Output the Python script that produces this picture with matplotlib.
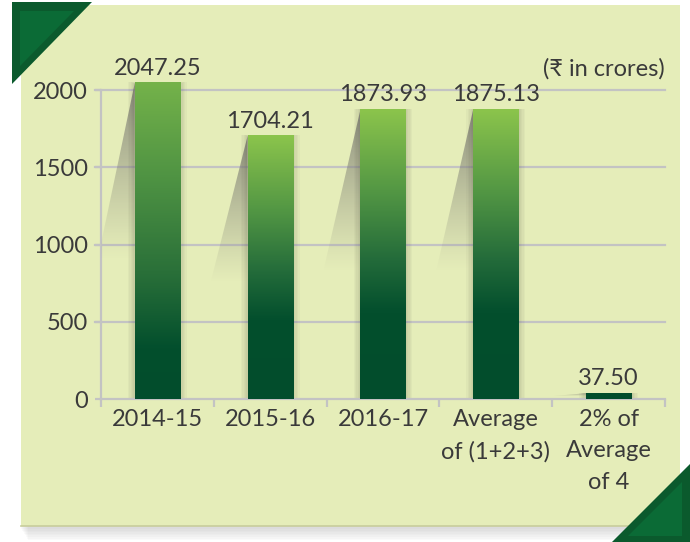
import numpy as np
import matplotlib
matplotlib.use("Agg")
import matplotlib.pyplot as plt
from matplotlib.colors import LinearSegmentedColormap
from matplotlib.patches import Polygon, Rectangle

# dados
categorias = ["2014-15", "2015-16", "2016-17", "Average\nof (1+2+3)", "2% of\nAverage\nof 4"]
valores = [2047.25, 1704.21, 1873.93, 1875.13, 37.50]
rotulos = ["2047.25", "1704.21", "1873.93", "1875.13", "37.50"]
yticks = [0, 500, 1000, 1500, 2000]

plt.rcParams['font.family'] = ['Liberation Sans Narrow', 'Lato', 'DejaVu Sans']
cor_texto = '#3a3a3a'
cor_grade = '#c3c3c3'
fundo = '#e5edb9'

fig = plt.figure(figsize=(6.9, 5.42), dpi=100)
fig.patch.set_facecolor('white')

# fundo do painel e triângulos dos cantos
bg = fig.add_axes([0, 0, 1, 1])
bg.set_xlim(0, 690)
bg.set_ylim(542, 0)
bg.axis('off')
for k in range(8):
    bg.add_patch(Rectangle((21 + k, 526), 659 - 2 * k, 3 + k * 1.6,
                           color='#808080', alpha=0.035, lw=0))
bg.add_patch(Rectangle((21, 5), 659, 521, color=fundo, lw=0))
bg.plot([21, 680], [526, 526], color='#c8cd9c', lw=1.2, zorder=1)
bg.add_patch(Polygon([(12, 2), (92, 2), (12, 84)], color='#0b5a2d', lw=0, zorder=3))
bg.add_patch(Polygon([(20, 11), (74, 11), (20, 66)], color='#0b6b36', lw=0, zorder=4))
bg.add_patch(Polygon([(612, 542), (690, 542), (690, 464)], color='#0b5a2d', lw=0, zorder=3))
bg.add_patch(Polygon([(628, 536), (682, 536), (682, 482)], color='#0b6b36', lw=0, zorder=4))

ax = fig.add_axes([101 / 690, 143 / 542, 564 / 690, 347.6 / 542])
ax.patch.set_alpha(0)
ax.set_xlim(-0.5, 4.5)
ax.set_ylim(0, 2250)

x = np.arange(len(valores))
larg = 0.4

# linhas de grade
for v in yticks[1:]:
    ax.plot([-0.555, 4.5], [v, v], color=cor_grade, lw=1.6, clip_on=False, zorder=1)

for i, (xi, h) in enumerate(zip(x, valores)):
    xl = xi - larg / 2
    # sombra inclinada
    base = 0.44 * h
    sombra = Polygon([(xl, h), (xl - 0.33, base), (xl, base)], closed=True,
                     facecolor='none', edgecolor='none')
    ax.add_patch(sombra)
    grad = np.zeros((100, 2, 4))
    t = np.linspace(0, 1, 100)[:, None]
    grad[..., 0] = 0.5
    grad[..., 1] = 0.5
    grad[..., 2] = 0.46
    grad[..., 3] = 0.85 * t ** 1.1
    im = ax.imshow(grad, extent=(xl - 0.33, xl, base, h), origin='lower',
                   aspect='auto', zorder=2, interpolation='bilinear')
    im.set_clip_path(sombra)
    # sombra suave lateral
    for k in range(1, 6):
        d = 0.012 * k
        ax.add_patch(Rectangle((xl - d, 0), larg + 2 * d, h + d * 60,
                               color='#3a3a30', alpha=0.035, lw=0, zorder=2))
    # barra com gradiente
    if i == 0:
        cmap = LinearSegmentedColormap.from_list(
            'b', [(0, '#024d2c'), (0.16, '#034f2d'), (0.4, '#2a7039'),
                  (0.7, '#4f9343'), (1, '#74b24a')])
    else:
        cmap = LinearSegmentedColormap.from_list(
            'b', [(0, '#024d2c'), (0.3, '#034f2d'), (0.48, '#236b3a'),
                  (0.72, '#539744'), (1, '#8bc44c')])
    col = cmap(np.linspace(0, 1, 200))[:, None, :].repeat(2, axis=1)
    if h < 100:
        col[:] = cmap(0.0)
    ax.imshow(col, extent=(xl, xl + larg, 0, h), origin='lower',
              aspect='auto', zorder=3, interpolation='bilinear')
    ax.annotate(rotulos[i], (xi, h), xytext=(0, 3), textcoords='offset points',
                ha='center', va='bottom', fontsize=17, color=cor_texto, zorder=5)

ax.set_xlim(-0.5, 4.5)
ax.set_ylim(0, 2250)

# eixos
for s in ['top', 'right']:
    ax.spines[s].set_visible(False)
ax.spines['left'].set_bounds(0, 2000)
ax.spines['left'].set_color(cor_grade)
ax.spines['left'].set_linewidth(1.6)
ax.spines['bottom'].set_color(cor_grade)
ax.spines['bottom'].set_linewidth(1.6)
ax.spines['left'].set_zorder(1)

ax.set_yticks(yticks)
ax.set_yticklabels([str(v) for v in yticks])
ax.tick_params(axis='y', length=4.5, width=1.6, color=cor_grade, pad=5,
               labelsize=17, labelcolor=cor_texto)
ax.set_xticks(x)
ax.set_xticklabels(categorias, linespacing=1.62)
ax.tick_params(axis='x', length=0, pad=7, labelsize=17, labelcolor=cor_texto)
ax.set_xticks(np.arange(-0.5, 5, 1), minor=True)
ax.tick_params(axis='x', which='minor', length=6, width=1.6, color=cor_grade)

ax.text(1.0, 0.95, "(₹ in crores)", transform=ax.transAxes, ha='right',
        va='center', fontsize=17, color=cor_texto)

plt.savefig('out.png', dpi=100)
